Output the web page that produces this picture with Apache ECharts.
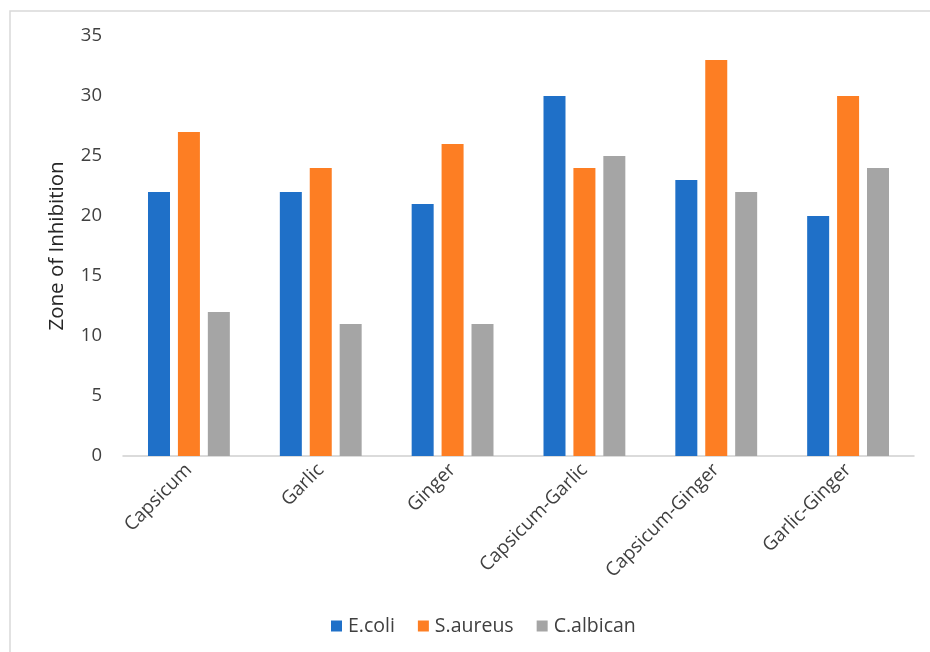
<!DOCTYPE html>
<html>
<head>
<meta charset="utf-8">
<script src="https://cdn.jsdelivr.net/npm/echarts@6/dist/echarts.min.js"></script>
<style>
  html, body { margin: 0; padding: 0; background: #ffffff; }
  #chart { width: 930px; height: 652px; }
</style>
</head>
<body>
<div id="chart"></div>
<script>
// Extracts and their combinations tested
const categories = ['Capsicum', 'Garlic', 'Ginger', 'Capsicum-Garlic', 'Capsicum-Ginger', 'Garlic-Ginger'];
// Zone of inhibition per organism
const ecoli    = [22, 22, 21, 30, 23, 20];
const saureus  = [27, 24, 26, 24, 33, 30];
const calbican = [12, 11, 11, 25, 22, 24];
const seriesNames = ['E.coli', 'S.aureus', 'C.albican'];
const colors = ['#1f70c8', '#fd7e23', '#a5a5a5'];

const chart = echarts.init(document.getElementById('chart'));
const font = '"Open Sans", "Noto Sans", sans-serif';

chart.setOption({
  animation: false,
  color: colors,
  graphic: [{
    type: 'rect',
    shape: { x: 10, y: 11, width: 930, height: 660 },
    style: { fill: 'none', stroke: '#d9d9d9', lineWidth: 1.5 },
    silent: true
  }],
  grid: { left: 123, right: 16, top: 36, bottom: 196 },
  legend: {
    top: 611,
    left: 326,
    itemWidth: 11,
    itemHeight: 11,
    itemGap: 23,
    icon: 'rect',
    textStyle: { fontFamily: font, fontSize: 19.5, color: '#404040', padding: [0, 0, 0, 1] },
    data: seriesNames
  },
  xAxis: {
    type: 'category',
    data: categories,
    axisTick: { show: false },
    axisLine: { lineStyle: { color: '#d0d0d0', width: 1.5 } },
    axisLabel: {
      rotate: 45,
      interval: 0,
      margin: 11,
      fontFamily: font,
      fontSize: 19,
      color: '#404040'
    }
  },
  yAxis: {
    type: 'value',
    min: 0,
    max: 35,
    interval: 5,
    name: 'Zone of Inhibition',
    nameLocation: 'middle',
    nameGap: 55,
    nameTextStyle: { fontFamily: font, fontSize: 20.5, color: '#262626' },
    axisLine: { show: false },
    axisTick: { show: false },
    splitLine: { show: false },
    axisLabel: { fontFamily: font, fontSize: 18.5, color: '#404040', margin: 21 }
  },
  series: [
    { name: seriesNames[0], type: 'bar', data: ecoli, barWidth: 22, barGap: '36%' },
    { name: seriesNames[1], type: 'bar', data: saureus, barWidth: 22, barGap: '36%' },
    { name: seriesNames[2], type: 'bar', data: calbican, barWidth: 22, barGap: '36%' }
  ]
});
</script>
</body>
</html>
